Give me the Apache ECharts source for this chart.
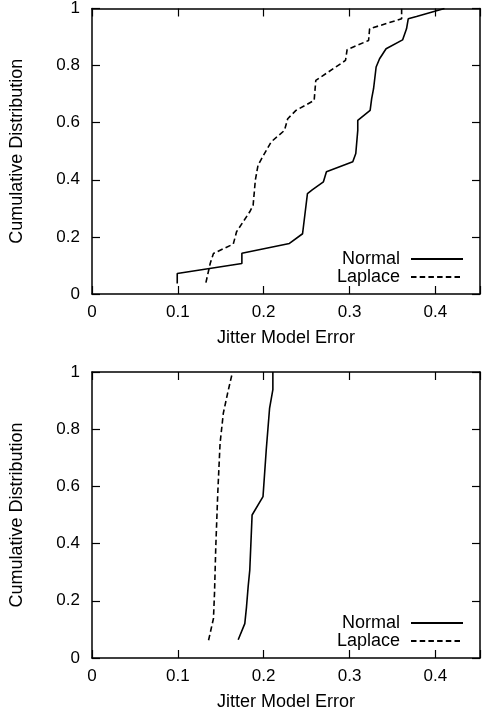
<!DOCTYPE html>
<html>
<head>
<meta charset="utf-8">
<script src="https://cdn.jsdelivr.net/npm/echarts@6/dist/echarts.min.js"></script>
<style>html,body{margin:0;padding:0;background:#fff}#c{width:483px;height:717px}</style>
</head>
<body>
<div id="c"></div>
<script>
// Top panel
var topNormalX = [0.0993,0.0993,0.1746,0.1746,0.230,0.2453,0.251,0.2565,0.2696,0.2731,0.3038,0.3073,0.3096,0.3096,0.324,0.3258,0.328,0.331,0.335,0.3426,0.3618,0.3664,0.3684,0.3780,0.4106];
var topNormalY = [0.037,0.072,0.107,0.143,0.177,0.211,0.352,0.365,0.393,0.428,0.463,0.492,0.573,0.608,0.643,0.684,0.719,0.795,0.824,0.859,0.890,0.929,0.964,0.972,1.0];
var topLaplaceX = [0.1327,0.1377,0.1415,0.1646,0.1684,0.1838,0.1877,0.1903,0.1934,0.197,0.2088,0.2242,0.228,0.2376,0.2588,0.2607,0.2953,0.2972,0.3222,0.3234,0.3607,0.3607];
var topLaplaceY = [0.040,0.107,0.142,0.175,0.218,0.288,0.311,0.399,0.451,0.471,0.533,0.573,0.614,0.643,0.678,0.748,0.818,0.856,0.888,0.929,0.964,1.0];
// Bottom panel
var botNormalX = [0.1703,0.178,0.18,0.1819,0.1838,0.1865,0.1992,0.203,0.2069,0.2107,0.2107];
var botNormalY = [0.064,0.12,0.179,0.249,0.307,0.5,0.564,0.728,0.874,0.938,1.0];
var botLaplaceX = [0.1358,0.1415,0.1427,0.1442,0.1465,0.1492,0.153,0.158,0.1634];
var botLaplaceY = [0.062,0.138,0.226,0.389,0.576,0.751,0.856,0.926,0.996];
var xTicks = [0, 0.1, 0.2, 0.3, 0.4];
var yTicks = [0, 0.2, 0.4, 0.6, 0.8, 1];
var seriesNames = ['Normal', 'Laplace'];
var xTitle = 'Jitter Model Error';
var yTitle = 'Cumulative Distribution';

function pairs(xs, ys){ return xs.map(function(x,i){ return [x, ys[i]]; }); }

var FONT = 'Liberation Sans';
var TICKFS = 17, TITLEFS = 18;
var axisLine = {show:true, onZero:false, lineStyle:{color:'#000', width:1.5}};
var tick = {show:true, inside:true, length:8, lineStyle:{color:'#000', width:1.2}};

function xAx(grid, main){
  return {
    type:'value', gridIndex:grid, min:0, max:0.452, interval:0.1,
    position: main ? 'bottom' : 'top',
    axisLine:axisLine, axisTick:tick, splitLine:{show:false},
    axisLabel: main ? {show:true, margin:10, color:'#000', fontFamily:FONT, fontSize:TICKFS,
      formatter:function(v){ var r = Math.round(v*10)/10; return (xTicks.indexOf(r) >= 0 && Math.abs(v-r) < 1e-6) ? String(r) : ''; }} : {show:false},
    name: main ? xTitle : '', nameLocation:'middle', nameGap:35,
    nameTextStyle:{color:'#000', fontFamily:FONT, fontSize:TITLEFS}
  };
}
function yAx(grid, main){
  return {
    type:'value', gridIndex:grid, min:0, max:1, interval:0.2,
    position: main ? 'left' : 'right',
    axisLine:axisLine, axisTick:tick, splitLine:{show:false},
    axisLabel: main ? {show:true, margin:12, color:'#000', fontFamily:FONT, fontSize:TICKFS,
      formatter:function(v){ var r = Math.round(v*10)/10; return yTicks.indexOf(r) >= 0 ? String(r) : ''; }} : {show:false},
    name: main ? yTitle : '', nameLocation:'middle', nameGap:66,
    nameTextStyle:{color:'#000', fontFamily:FONT, fontSize:TITLEFS}
  };
}
function line(name, data, xi, yi, dashed){
  return {
    name:name, type:'line', xAxisIndex:xi, yAxisIndex:yi, data:data,
    symbol:'none', smooth:false, silent:true, animation:false,
    lineStyle:{color:'#000', width:1.6, type: dashed ? [5.5,3.2] : 'solid'},
    itemStyle:{color:'#000'}
  };
}
function legend(top){
  return {data:seriesNames, orient:'vertical', right:14, top:top, align:'right',
    itemWidth:52, itemHeight:14, itemGap:0, selectedMode:false,
    itemStyle:{opacity:0, color:'transparent', borderWidth:0},
    textStyle:{color:'#000', fontFamily:FONT, fontSize:TITLEFS, lineHeight:18, height:18, padding:[0,6,0,0]}};
}

var chart = echarts.init(document.getElementById('c'), null, {renderer:'canvas'});
chart.setOption({
  animation:false,
  backgroundColor:'#fff',
  grid:[
    {left:92, top:8, width:392, height:286},
    {left:92, top:372, width:392, height:286}
  ],
  xAxis:[xAx(0,true), xAx(0,false), xAx(1,true), xAx(1,false)],
  yAxis:[yAx(0,true), yAx(0,false), yAx(1,true), yAx(1,false)],
  legend:[legend(245), legend(609)],
  series:[
    line(seriesNames[0], pairs(topNormalX, topNormalY), 0, 0, false),
    line(seriesNames[1], pairs(topLaplaceX, topLaplaceY), 0, 0, true),
    line(seriesNames[0], pairs(botNormalX, botNormalY), 2, 2, false),
    line(seriesNames[1], pairs(botLaplaceX, botLaplaceY), 2, 2, true)
  ]
});
</script>
</body>
</html>
